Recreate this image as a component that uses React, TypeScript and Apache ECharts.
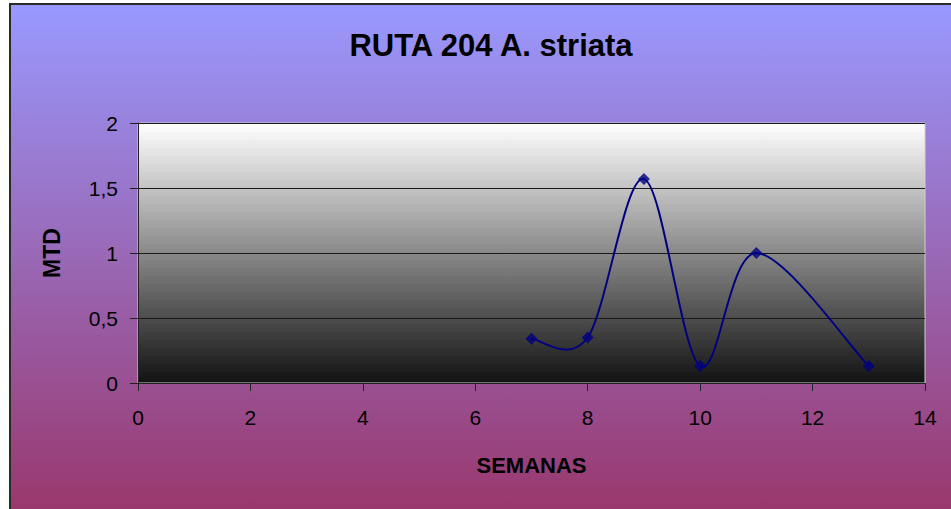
import React, { useEffect, useRef } from "react";
import * as echarts from "echarts";

const TITLE = "RUTA 204 A. striata";
const X_NAME = "SEMANAS";
const Y_NAME = "MTD";
const weeks = [7, 8, 9, 10, 11, 13];
const mtd = [0.34, 0.35, 1.57, 0.13, 1.0, 0.13];
const xTicks = [0, 2, 4, 6, 8, 10, 12, 14];
const yTicks = [0, 0.5, 1, 1.5, 2];

export default function App() {
  const ref = useRef<HTMLDivElement>(null);
  useEffect(() => {
    if (!ref.current) return;
    const chart = echarts.init(ref.current, null, { renderer: "svg" });
    const font = "'Liberation Sans', Arial, sans-serif";
    const points = weeks.map((w, i) => [w, mtd[i]]);
    chart.setOption({
      animation: false,
      backgroundColor: "#ffffff",
      graphic: [
        {
          type: "rect",
          z: -100,
          silent: true,
          shape: { x: 10, y: 4, width: 960, height: 530 },
          style: {
            fill: new echarts.graphic.LinearGradient(0, 0, 0, 1, [
              { offset: 0, color: "#9999FF" },
              { offset: 1, color: "#993366" },
            ]),
            stroke: "#2a2a2a",
            lineWidth: 2,
          },
        },
      ],
      title: {
        text: TITLE,
        left: 486,
        top: 25,
        textAlign: "center",
        textStyle: { fontFamily: font, fontWeight: "bold", fontSize: 31, color: "#000" },
      },
      grid: {
        left: 138,
        top: 123,
        width: 787,
        height: 260,
        show: true,
        borderColor: "#d0d0d0",
        borderWidth: 1,
        backgroundColor: new echarts.graphic.LinearGradient(0, 0, 0, 1, [
          { offset: 0, color: "#ffffff" },
          { offset: 1, color: "#121212" },
        ]),
      },
      xAxis: {
        type: "value",
        min: xTicks[0],
        max: xTicks[xTicks.length - 1],
        interval: 2,
        name: X_NAME,
        nameLocation: "middle",
        nameGap: 71,
        nameTextStyle: { fontFamily: font, fontWeight: "bold", fontSize: 22, color: "#000" },
        axisLine: { show: true, lineStyle: { color: "#222", width: 1 } },
        axisTick: { show: true, length: 8, lineStyle: { color: "#222" } },
        axisLabel: { fontFamily: font, fontSize: 21, color: "#000", margin: 24 },
        splitLine: { show: false },
      },
      yAxis: {
        type: "value",
        min: yTicks[0],
        max: yTicks[yTicks.length - 1],
        interval: 0.5,
        name: Y_NAME,
        nameLocation: "middle",
        nameGap: 75,
        nameRotate: 90,
        nameTextStyle: { fontFamily: font, fontWeight: "bold", fontSize: 23, color: "#000" },
        axisLine: { show: true, lineStyle: { color: "#222", width: 1 } },
        axisTick: { show: true, length: 8, lineStyle: { color: "#222" } },
        axisLabel: {
          fontFamily: font,
          fontSize: 21,
          color: "#000",
          margin: 20,
          formatter: (v: number) => String(v).replace(".", ","),
        },
        splitLine: { show: true, lineStyle: { color: "#1a1a1a", width: 1 } },
      },
      series: [
        {
          type: "custom",
          silent: true,
          z: 2,
          data: points,
          encode: { x: 0, y: 1 },
          renderItem: (params: any, api: any) => {
            if (params.dataIndex !== 0) return null;
            const pts = points.map((p) => api.coord(p));
            const n = pts.length;
            let d = `M${pts[0][0]},${pts[0][1]}`;
            for (let i = 0; i < n - 1; i++) {
              const p0 = pts[i - 1] || pts[i];
              const p1 = pts[i];
              const p2 = pts[i + 1];
              const p3 = pts[i + 2] || pts[i + 1];
              const c1x = p1[0] + (p2[0] - p0[0]) / 6;
              const c1y = p1[1] + (p2[1] - p0[1]) / 6;
              const c2x = p2[0] - (p3[0] - p1[0]) / 6;
              const c2y = p2[1] - (p3[1] - p1[1]) / 6;
              d += ` C${c1x},${c1y} ${c2x},${c2y} ${p2[0]},${p2[1]}`;
            }
            return {
              type: "path",
              shape: { pathData: d },
              style: { fill: "none", stroke: "#000080", lineWidth: 2 },
            };
          },
        },
        {
          type: "scatter",
          z: 3,
          data: points,
          symbol: "diamond",
          symbolSize: 12,
          itemStyle: { color: "#000080" },
        },
      ],
    });
    return () => chart.dispose();
  }, []);
  return (
    <div
      ref={ref}
      style={{ position: "fixed", left: 0, top: 0, width: 951, height: 509 }}
    />
  );
}
